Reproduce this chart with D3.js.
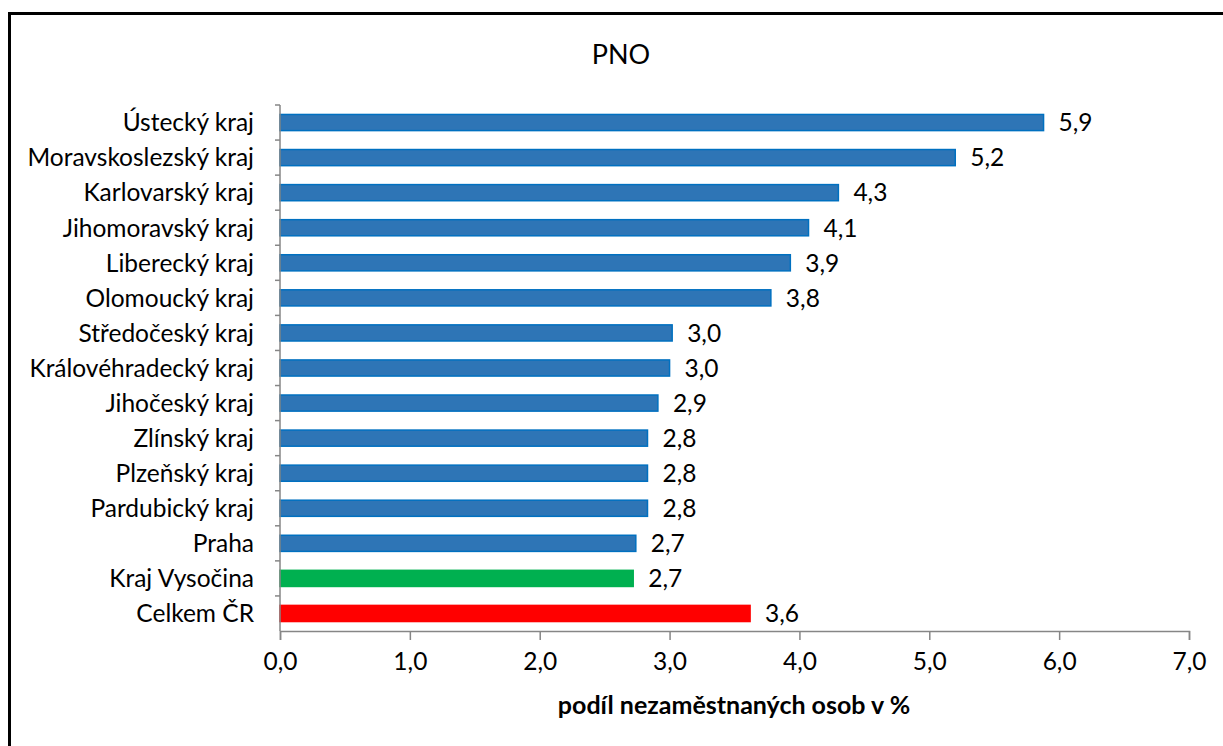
<!DOCTYPE html>
<html><head><meta charset="utf-8">
<script src="https://cdn.jsdelivr.net/npm/d3@7/dist/d3.min.js"></script>
<style>
html,body{margin:0;padding:0;background:#fff;}
svg{display:block;}
text{font-family:Lato, "Open Sans", sans-serif;fill:#000;}
</style></head>
<body><svg id="c" width="1223" height="746"></svg>
<script>
const categories = ["Ústecký kraj","Moravskoslezský kraj","Karlovarský kraj","Jihomoravský kraj","Liberecký kraj","Olomoucký kraj","Středočeský kraj","Královéhradecký kraj","Jihočeský kraj","Zlínský kraj","Plzeňský kraj","Pardubický kraj","Praha","Kraj Vysočina","Celkem ČR"];
const values = [5.88,5.20,4.30,4.07,3.93,3.78,3.02,3.00,2.91,2.83,2.83,2.83,2.74,2.72,3.62];
const barColors = ["#2E75B6","#2E75B6","#2E75B6","#2E75B6","#2E75B6","#2E75B6","#2E75B6","#2E75B6","#2E75B6","#2E75B6","#2E75B6","#2E75B6","#2E75B6","#00B050","#FF0000"];
const barStrokes = ["#0070C0","#0070C0","#0070C0","#0070C0","#0070C0","#0070C0","#0070C0","#0070C0","#0070C0","#0070C0","#0070C0","#0070C0","#0070C0","#00B050","#FF0000"];
const xTicks = [0,1,2,3,4,5,6,7];
const title = "PNO";
const xTitle = "podíl nezaměstnaných osob v %";

const svg = d3.select("#c");
const loc = d3.formatLocale({decimal:",",thousands:" ",grouping:[3],currency:["","Kč"]});
const fmt = loc.format(".1f");

// frame (only left & top visible in picture)
svg.append("rect").attr("x",9.5).attr("y",13.5).attr("width",1240).attr("height",760)
  .attr("fill","none").attr("stroke","#000").attr("stroke-width",3);

const x = d3.scaleLinear().domain([0,7]).range([280,1189]);
const y = d3.scaleBand().domain(categories).range([105,631]).paddingInner(0.54).paddingOuter(0.27);
const step = y.step();

svg.append("text").attr("x",621).attr("y",64).attr("text-anchor","middle")
  .style("font-size","27px").text(title);

// bars
svg.append("g").selectAll("rect").data(values).join("rect")
  .attr("x",x(0)).attr("y",(d,i)=>y(categories[i]))
  .attr("width",d=>x(d)-x(0)).attr("height",y.bandwidth())
  .attr("fill",(d,i)=>barColors[i]).attr("stroke",(d,i)=>barStrokes[i]).attr("stroke-width",1.5);

// value labels
svg.append("g").selectAll("text").data(values).join("text")
  .attr("x",d=>x(d)+15).attr("y",(d,i)=>y(categories[i])+y.bandwidth()/2)
  .attr("dy","0.36em").style("font-size","24.5px").text(d=>fmt(d));

// y axis
const ya = svg.append("g");
ya.append("line").attr("x1",280).attr("x2",280).attr("y1",105).attr("y2",631).attr("stroke","#868686").attr("stroke-width",1.5);
ya.selectAll("line.t").data(d3.range(categories.length)).join("line").attr("class","t")
  .attr("x1",275).attr("x2",280).attr("y1",i=>y(categories[i])-y.paddingOuter()*step).attr("y2",i=>y(categories[i])-y.paddingOuter()*step)
  .attr("stroke","#868686").attr("stroke-width",1.5);
ya.selectAll("text").data(categories).join("text")
  .attr("x",254).attr("y",d=>y(d)+y.bandwidth()/2).attr("dy","0.36em").attr("text-anchor","end")
  .style("font-size","24.5px").text(d=>d);

// x axis
const xa = svg.append("g").attr("transform","translate(0,631)")
  .call(d3.axisBottom(x).tickValues(xTicks).tickSize(9).tickPadding(13).tickFormat(fmt));
xa.select(".domain").attr("stroke","#868686").attr("stroke-width",1.5);
xa.selectAll(".tick line").attr("stroke","#868686").attr("stroke-width",1.5);
xa.selectAll(".tick text").style("font-size","24.5px").style("font-family","Lato, sans-serif").attr("fill","#000");

svg.append("text").attr("x",734).attr("y",714).attr("text-anchor","middle")
  .style("font-size","25px").style("font-weight","bold").text(xTitle);
</script></body></html>
